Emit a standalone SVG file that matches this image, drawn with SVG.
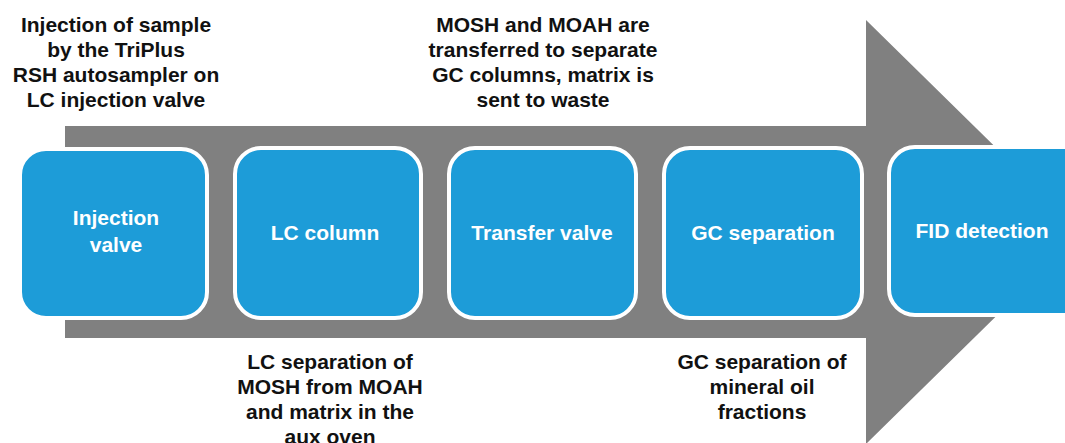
<svg xmlns="http://www.w3.org/2000/svg" width="1065" height="443" viewBox="0 0 1065 443">
<style>
.box{fill:#1D9CD8;stroke:#ffffff;stroke-width:4}
.bt{font-family:"Liberation Sans",Arial,sans-serif;font-weight:bold;font-size:21px;fill:#ffffff;text-anchor:middle}
.lt{font-family:"Liberation Sans",Arial,sans-serif;font-weight:bold;font-size:21px;fill:#111111;text-anchor:middle}
</style>
<rect width="1065" height="443" fill="#ffffff"/>
<g id="connectors">
<polygon points="65,126 866,126 866,20 1082,232 866,444 866,338 65,338" fill="#808080"/>
</g>
<g id="n1">
<rect class="box" x="20" y="149" width="187" height="169" rx="26"/>
<text class="bt" x="116" y="225">Injection</text>
<text class="bt" x="116" y="252">valve</text>
</g>
<g id="n2">
<rect class="box" x="235" y="148" width="186" height="170" rx="26"/>
<text class="bt" x="325" y="240">LC column</text>
</g>
<g id="n3">
<rect class="box" x="449" y="148" width="187" height="170" rx="26"/>
<text class="bt" x="542" y="240">Transfer valve</text>
</g>
<g id="n4">
<rect class="box" x="664" y="148" width="198" height="170" rx="26"/>
<text class="bt" x="763" y="240">GC separation</text>
</g>
<g id="n5">
<rect class="box" x="889" y="147" width="200" height="168" rx="26"/>
<text class="bt" x="982" y="238">FID detection</text>
</g>
<g id="label-top-left">
<text class="lt" x="116" y="32">Injection of sample</text>
<text class="lt" x="116" y="57">by the TriPlus</text>
<text class="lt" x="116" y="82">RSH autosampler on</text>
<text class="lt" x="116" y="107">LC injection valve</text>
</g>
<g id="label-top-mid">
<text class="lt" x="543" y="32">MOSH and MOAH are</text>
<text class="lt" x="543" y="57">transferred to separate</text>
<text class="lt" x="543" y="82">GC columns, matrix is</text>
<text class="lt" x="543" y="107">sent to waste</text>
</g>
<g id="label-bottom-left">
<text class="lt" x="330" y="369">LC separation of</text>
<text class="lt" x="330" y="394">MOSH from MOAH</text>
<text class="lt" x="330" y="419">and matrix in the</text>
<text class="lt" x="330" y="444">aux oven</text>
</g>
<g id="label-bottom-right">
<text class="lt" x="762" y="369">GC separation of</text>
<text class="lt" x="762" y="394">mineral oil</text>
<text class="lt" x="762" y="419">fractions</text>
</g>
</svg>
